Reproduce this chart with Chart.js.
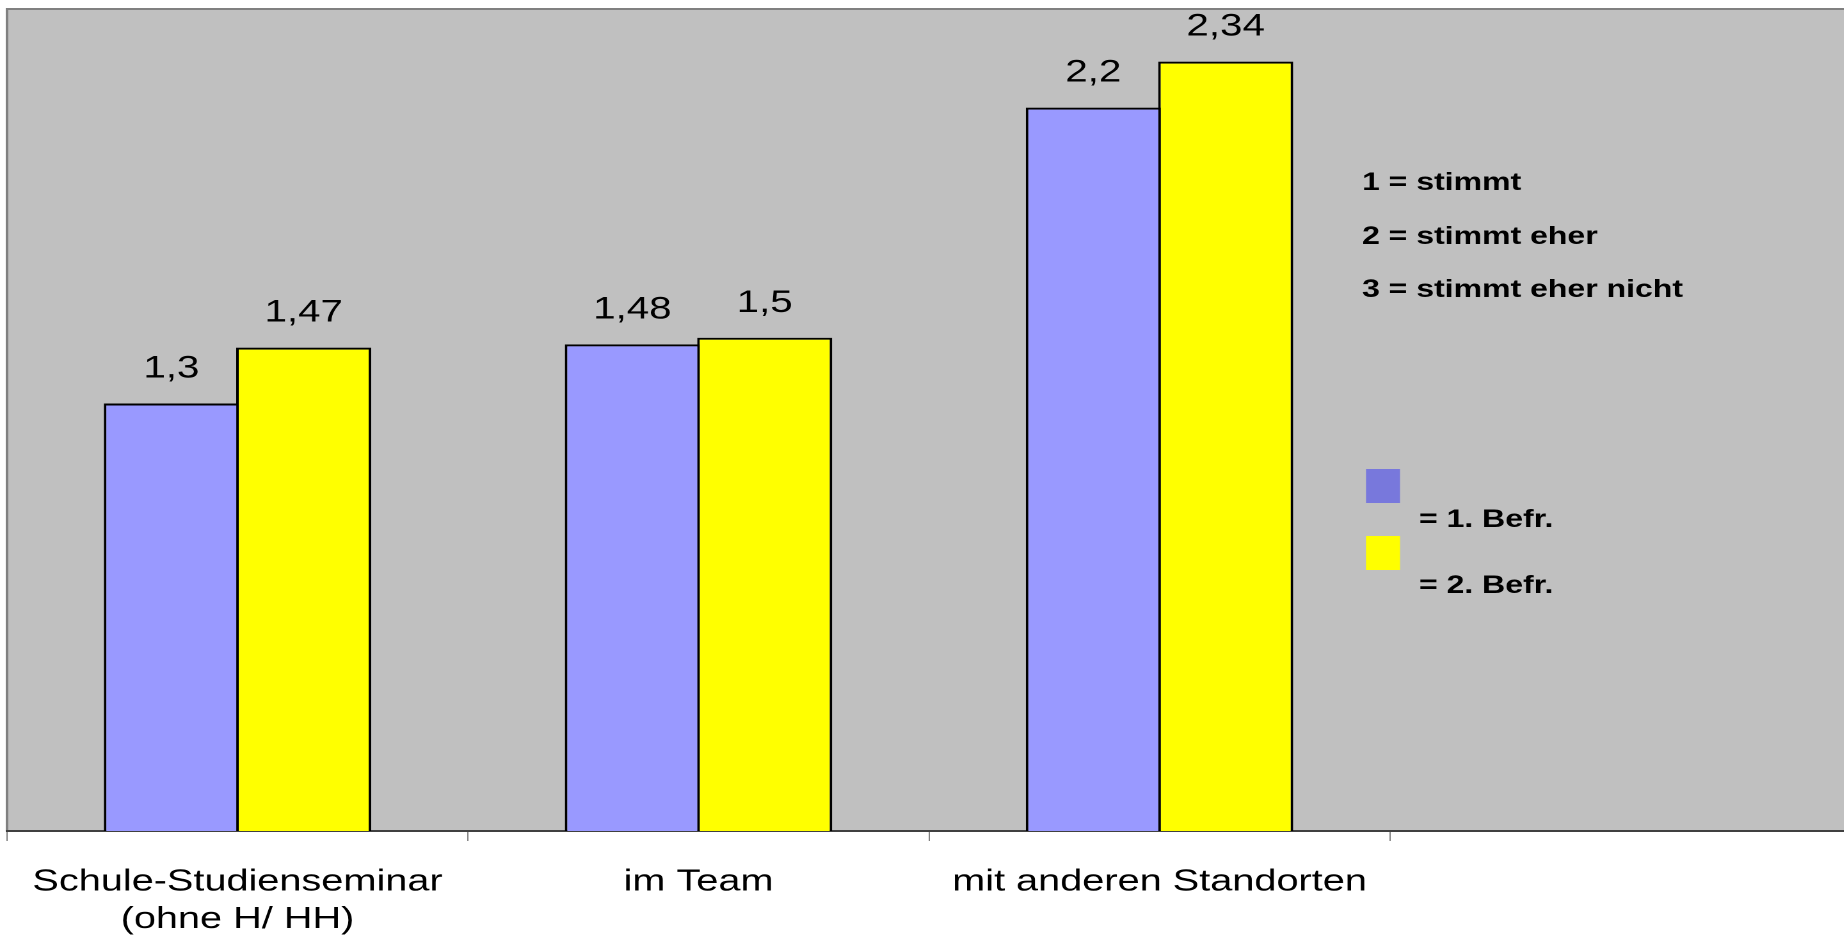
<!DOCTYPE html>
<html>
<head>
<meta charset="utf-8">
<title>Befragung</title>
<script src="https://cdn.jsdelivr.net/npm/chart.js@4/dist/chart.umd.min.js"></script>
<style>
  html, body { margin: 0; padding: 0; background: #ffffff; overflow: hidden; width: 1844px; height: 942px; }
  #wrap { position: absolute; left: 0; top: 0; transform-origin: 0 0; }
</style>
</head>
<body>
<div id="wrap"><canvas id="chart"></canvas></div>
<script>
// Categories and values
const categories = [['Schule-Studienseminar', '(ohne H/ HH)'], 'im Team', 'mit anderen Standorten', ''];
const befragung1 = [1.3, 1.48, 2.2, null];
const befragung2 = [1.47, 1.5, 2.34, null];
const seriesNames = ['= 1. Befr.', '= 2. Befr.'];
const scaleNotes = ['1 = stimmt', '2 = stimmt eher', '3 = stimmt eher nicht'];
const yMin = 0;
const yMax = 2.5;

// The chart is drawn narrower and stretched horizontally, like a widened slide graphic
const SX = 1.28;
const H = 942;
const W = Math.round(1860 / SX);

const wrap = document.getElementById('wrap');
wrap.style.transform = 'scaleX(' + SX + ')';
const canvas = document.getElementById('chart');
canvas.width = W;
canvas.height = H;

Chart.defaults.font.family = "'Liberation Sans', Arial, Helvetica, sans-serif";
Chart.defaults.color = '#000000';

const fmt = v => String(v).replace('.', ',');

// Grey plot area with its frame
const plotBackground = {
  id: 'plotBackground',
  beforeDraw(chart) {
    const { ctx, chartArea: a } = chart;
    ctx.save();
    ctx.fillStyle = '#C0C0C0';
    ctx.fillRect(a.left, a.top, a.right - a.left, a.bottom - a.top);
    ctx.strokeStyle = '#808080';
    ctx.lineWidth = 2;
    ctx.beginPath();
    ctx.moveTo(a.left, a.bottom);
    ctx.lineTo(a.left, a.top);
    ctx.lineTo(a.right, a.top);
    ctx.stroke();
    ctx.restore();
  }
};

// Value labels above each bar
const valueLabels = {
  id: 'valueLabels',
  afterDatasetsDraw(chart) {
    const { ctx } = chart;
    ctx.save();
    ctx.fillStyle = '#000000';
    ctx.font = "31.5px 'Liberation Sans', Arial, sans-serif";
    ctx.textAlign = 'center';
    ctx.textBaseline = 'alphabetic';
    chart.data.datasets.forEach((ds, di) => {
      chart.getDatasetMeta(di).data.forEach((bar, i) => {
        const v = ds.data[i];
        if (v === null || v === undefined) return;
        ctx.fillText(fmt(v), bar.x, bar.y - 26);
      });
    });
    ctx.restore();
  }
};

// Answer scale notes and series key inside the plot area
const notesAndKey = {
  id: 'notesAndKey',
  afterDraw(chart) {
    const { ctx } = chart;
    ctx.save();
    ctx.fillStyle = '#000000';
    ctx.font = "bold 25px 'Liberation Sans', Arial, sans-serif";
    ctx.textAlign = 'left';
    ctx.textBaseline = 'alphabetic';
    const noteX = 1362 / SX;
    const noteY = [190, 244, 297];
    scaleNotes.forEach((t, i) => ctx.fillText(t, noteX, noteY[i]));

    const keyColors = ['#7878DC', '#FFFF00'];
    const boxX = 1366 / SX, boxW = 34 / SX, boxH = 34;
    const boxY = [469, 536];
    const textX = 1419 / SX;
    const textY = [527, 593];
    seriesNames.forEach((name, i) => {
      ctx.fillStyle = keyColors[i];
      ctx.fillRect(boxX, boxY[i], boxW, boxH);
      ctx.fillStyle = '#000000';
      ctx.fillText(name, textX, textY[i]);
    });
    ctx.restore();
  }
};

// Neighbouring bars overlap by one border width so they share a single outline
const barStyle = {
  borderColor: '#000000',
  borderWidth: 2,
  categoryPercentage: 0.5743,
  barPercentage: 1.02
};

new Chart(canvas, {
  type: 'bar',
  data: {
    labels: categories,
    datasets: [
      Object.assign({ label: seriesNames[0], data: befragung1, backgroundColor: '#9999FF' }, barStyle),
      Object.assign({ label: seriesNames[1], data: befragung2, backgroundColor: '#FFFF00' }, barStyle)
    ]
  },
  options: {
    responsive: false,
    devicePixelRatio: 2,
    animation: false,
    events: [],
    layout: { padding: { left: 7 / SX, top: 9, right: W - 1851 / SX, bottom: 0 } },
    plugins: {
      legend: { display: false },
      tooltip: { enabled: false },
      title: { display: false }
    },
    scales: {
      x: {
        offset: true,
        grid: {
          display: true,
          drawOnChartArea: false,
          drawTicks: true,
          tickLength: 10,
          color: '#808080',
          lineWidth: 1,
          offset: true
        },
        border: { display: true, color: '#404040', width: 2 },
        ticks: {
          color: '#000000',
          font: { size: 31, lineHeight: 1.21 },
          padding: 22,
          maxRotation: 0,
          autoSkip: false
        },
        afterFit(scale) { scale.height = H - 831; }
      },
      y: {
        display: false,
        min: yMin,
        max: yMax
      }
    }
  },
  plugins: [plotBackground, valueLabels, notesAndKey]
});
</script>
</body>
</html>
